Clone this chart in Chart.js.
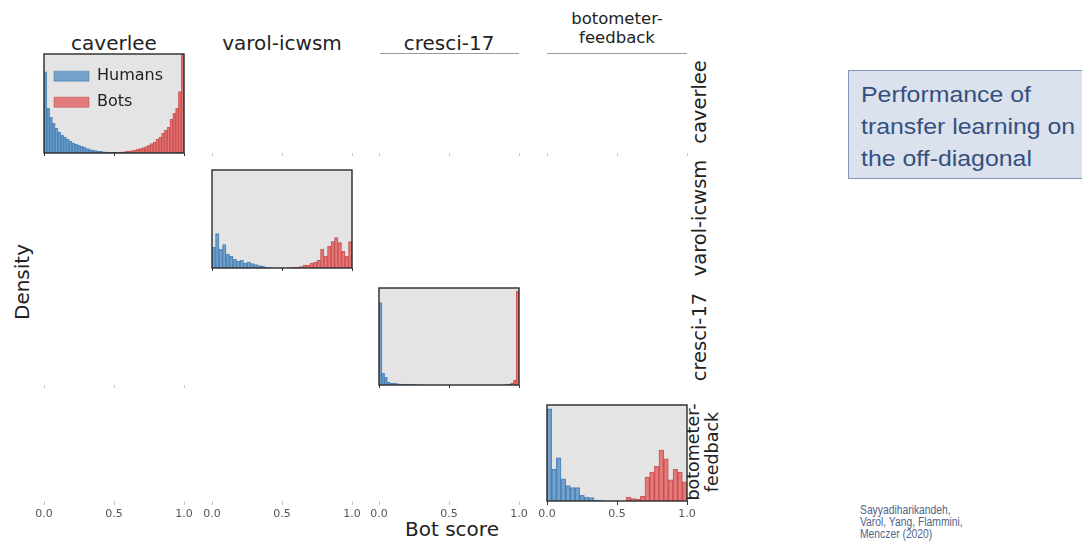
<!DOCTYPE html>
<html><head><meta charset="utf-8">
<script src="https://cdn.jsdelivr.net/npm/chart.js@4.4.1/dist/chart.umd.min.js"></script>
<style>
html,body{margin:0;padding:0;background:#fff;}
#wrap{position:relative;width:1082px;height:542px;overflow:hidden;font-family:"DejaVu Sans",sans-serif;color:#222;background:#fff;}
canvas{position:absolute;}
.t{position:absolute;white-space:nowrap;line-height:1.05;text-align:center;}
.rot{transform:translate(-50%,-50%) rotate(-90deg);}
.ln{position:absolute;background:#9a9a9a;}
#box{position:absolute;left:848px;top:70px;width:250px;height:109px;box-sizing:border-box;background:#dbe2ee;border:1px solid #8294b4;
  font-family:"Liberation Sans",Arial,sans-serif;font-size:22px;line-height:32px;color:#34517e;padding:8px 0 0 12px;}
#box span{display:inline-block;transform:scaleX(1.13);transform-origin:left top;}
#cite{position:absolute;left:860px;top:504px;font-family:"Liberation Sans",Arial,sans-serif;font-size:12px;line-height:12px;color:#51648a;}
#cite span{display:inline-block;transform:scaleX(0.86);transform-origin:left top;}
</style></head>
<body><div id="wrap">
<div id="box"><span>Performance of<br>transfer learning on<br>the off-diagonal</span></div>
<div id="cite"><span>Sayyadiharikandeh,<br>Varol, Yang, Flammini,<br>Menczer (2020)</span></div>
</div>
<script>
// ---------------- data ----------------
const datasetNames = ["caverlee", "varol-icwsm", "cresci-17", "botometer-feedback"];
const colTitles = ["caverlee", "varol-icwsm", "cresci-17", "botometer-<br>feedback"];
const seriesLabels = ["Humans", "Bots"];
const xTicks = [0.0, 0.5, 1.0];

const caverleeBins = 50;
const caverleeHumans = [0.82,0.45,0.36,0.30,0.25,0.21,0.18,0.16,0.14,0.12,0.10,0.09,0.078,0.068,0.058,0.045,0.035,0.03,0.025,0.02,
  0.016,0.013,0.01,0.008,0.007,0.006,0.005,0.004,0.004,0.003,0.003,0.003,0.002,0.002,0.002,0.002,0.002,0.002,0.002,0.002,
  0.002,0.002,0.002,0.002,0.002,0.002,0.002,0.003,0.003,0.004];
const caverleeBots = [0.002,0.002,0.002,0.002,0.002,0.002,0.002,0.002,0.002,0.002,0.002,0.002,0.002,0.002,0.002,0.002,0.002,0.002,0.002,0.002,
  0.003,0.004,0.004,0.005,0.006,0.007,0.008,0.01,0.013,0.016,0.02,0.024,0.03,0.036,0.045,0.055,0.065,0.08,0.095,0.11,
  0.14,0.16,0.20,0.23,0.26,0.34,0.40,0.45,0.62,1.0];

const varolBins = 40;
const varolHumans = [0.21,0.35,0.19,0.24,0.14,0.12,0.09,0.07,0.08,0.05,0.06,0.045,0.035,0.025,0.02,0.01,0.005,0.003,null,null,
  null,null,null,null,null,null,null,null,null,null,null,null,null,null,null,null,null,null,null,null];
const varolBots = [null,null,null,null,null,null,null,null,null,null,null,null,null,null,null,null,null,null,null,null,
  null,null,0.004,0.006,0.01,0.015,0.03,0.03,0.05,0.06,0.08,0.19,0.12,0.22,0.27,0.31,0.26,0.17,0.12,0.27];

const cresciBins = 50;
const cresciHumans = [0.85,0.12,0.08,0.03,0.02,0.02,0.015,0.01,0.01,0.008,0.006,0.005,0.004,0.003,0.003,null,null,null,null,null,
  null,null,null,null,null,null,null,null,null,null,null,null,null,null,null,null,null,null,null,null,
  null,null,null,null,null,null,null,null,null,null];
const cresciBots = [null,null,null,null,null,null,null,null,null,null,null,null,null,null,null,null,null,null,null,null,
  null,null,null,null,null,null,null,null,null,null,null,null,null,null,null,null,null,null,null,null,
  null,null,null,null,null,0.005,0.01,0.02,0.05,0.97];

const feedbackBins = 30;
const feedbackHumans = [0.96,0.33,0.45,0.23,0.16,0.14,0.14,0.06,0.04,0.035,0.01,0.005,null,null,null,null,null,null,null,null,
  null,null,null,null,null,null,null,null,null,null];
const feedbackBots = [null,null,null,null,null,null,null,null,null,null,null,null,null,null,null,null,null,0.04,0.025,0.02,
  0.05,0.25,0.30,0.36,0.53,0.44,0.22,0.33,0.30,0.20];

const diagData = [
  {bins: caverleeBins, humans: caverleeHumans, bots: caverleeBots, legend: true},
  {bins: varolBins, humans: varolHumans, bots: varolBots, legend: false},
  {bins: cresciBins, humans: cresciHumans, bots: cresciBots, legend: false},
  {bins: feedbackBins, humans: feedbackHumans, bots: feedbackBots, legend: false}
];

// ---------------- layout ----------------
const colLeft = [44, 212, 379, 547];
const colW = 140;
const rowTop = [54, 170, 288, 405];
const rowBottom = [153, 268, 385, 501];
const PADX = 16, PADT = 2;

const wrap = document.getElementById('wrap');
function addText(html, x, y, size, cls, extra) {
  const d = document.createElement('div');
  d.className = 't ' + (cls || '');
  d.innerHTML = html;
  d.style.left = x + 'px'; d.style.top = y + 'px'; d.style.fontSize = size + 'px';
  if (!cls) d.style.transform = 'translate(-50%,-50%)';
  if (extra) Object.assign(d.style, extra);
  wrap.appendChild(d);
}
function addLine(x, y, w, h) {
  const d = document.createElement('div'); d.className = 'ln';
  Object.assign(d.style, {left: x + 'px', top: y + 'px', width: w + 'px', height: h + 'px'});
  wrap.appendChild(d);
}

addText(colTitles[0], 114, 43, 20);
addText(colTitles[1], 282, 43, 20);
addText(colTitles[2], 449, 43, 20);
addText(colTitles[3], 617, 28, 16.5, '', {lineHeight: '19px'});
addText(colTitles[0], 700, 102, 19.5, 'rot');
addText(colTitles[1], 700, 218, 19.5, 'rot');
addText(colTitles[2], 700, 337, 19.5, 'rot');
addText(colTitles[3], 703, 452, 17.5, 'rot', {lineHeight: '19px'});
addText('Density', 22, 282, 20, 'rot');
addText('Bot score', 452, 529, 20);
addLine(380, 53, 139, 1);
addLine(547, 53, 140, 1);

const frame = {
  id: 'frame',
  beforeDraw(chart, args, o) {
    if (!o.show) return;
    const a = chart.chartArea, ctx = chart.ctx;
    ctx.save(); ctx.fillStyle = '#e4e4e4';
    ctx.fillRect(a.left, a.top, a.right - a.left, a.bottom - a.top); ctx.restore();
  },
  afterDraw(chart, args, o) {
    if (!o.show) return;
    const a = chart.chartArea, ctx = chart.ctx;
    ctx.save(); ctx.strokeStyle = '#2a2a2a'; ctx.lineWidth = 1.4;
    ctx.strokeRect(a.left, a.top, a.right - a.left, a.bottom - a.top); ctx.restore();
  }
};

function centers(n) { const c = []; for (let i = 0; i < n; i++) c.push((i + 0.5) / n); return c; }

function makeCell(r, c, opt) {
  const axisH = opt.labels ? 24 : 5;
  const W = colW + 2 * PADX, H = rowBottom[r] - rowTop[r] + PADT + axisH;
  const cv = document.createElement('canvas');
  cv.width = W; cv.height = H;
  cv.style.left = (colLeft[c] - PADX) + 'px'; cv.style.top = (rowTop[r] - PADT) + 'px';
  cv.style.width = W + 'px'; cv.style.height = H + 'px';
  wrap.appendChild(cv);
  const datasets = [];
  if (opt.diag) {
    const d = diagData[c], xs = centers(d.bins);
    datasets.push({label: seriesLabels[0], data: xs.map((x, i) => ({x, y: d.humans[i]})),
      backgroundColor: 'rgba(55,125,190,0.64)', borderColor: 'rgba(45,105,165,0.7)', borderWidth: 0.6});
    datasets.push({label: seriesLabels[1], data: xs.map((x, i) => ({x, y: d.bots[i]})),
      backgroundColor: 'rgba(225,70,70,0.66)', borderColor: 'rgba(190,50,50,0.7)', borderWidth: 0.6});
  }
  const tickCol = opt.diag ? '#333' : '#c8c8c8';
  new Chart(cv, {
    type: 'bar',
    data: {datasets},
    options: {
      responsive: false, animation: false, devicePixelRatio: 1,
      layout: {padding: {left: PADX, right: PADX, top: PADT, bottom: 0}},
      datasets: {bar: {grouped: false, barPercentage: 1, categoryPercentage: 1, borderSkipped: 'start'}},
      scales: {
        x: {type: 'linear', min: 0, max: 1, offset: false,
          afterFit: s => { s.height = axisH; },
          afterBuildTicks: s => { s.ticks = xTicks.map(v => ({value: v})); },
          border: {display: false},
          grid: {display: true, offset: false, drawOnChartArea: false, drawTicks: true, tickLength: opt.labels ? 4 : 3, color: tickCol, lineWidth: 1},
          ticks: {display: opt.labels, maxRotation: 0, autoSkip: false, padding: 3, color: '#555',
            font: {family: 'DejaVu Sans', size: 11}, callback: v => Number(v).toFixed(1)}},
        y: {display: false, min: 0, max: 1.0}
      },
      plugins: {
        frame: {show: !!opt.diag},
        tooltip: {enabled: false},
        legend: {display: !!(opt.diag && diagData[c].legend), position: 'chartArea', align: 'start',
          title: {display: true, text: ' ', font: {size: 1}, padding: {top: 0, bottom: 5}},
          labels: {boxWidth: 35, boxHeight: 10, padding: 10, color: '#222', font: {family: 'DejaVu Sans', size: 16}}}
      }
    },
    plugins: [frame]
  });
}

for (let r = 0; r < 4; r++) {
  for (let c = 0; c < 4; c++) {
    const diag = r === c;
    const bottom = r === 3;
    const faint = (r === 0 && c > 0) || (r === 2 && c === 0);
    if (diag || bottom || faint) makeCell(r, c, {diag, labels: bottom});
  }
}
</script>
</body></html>
